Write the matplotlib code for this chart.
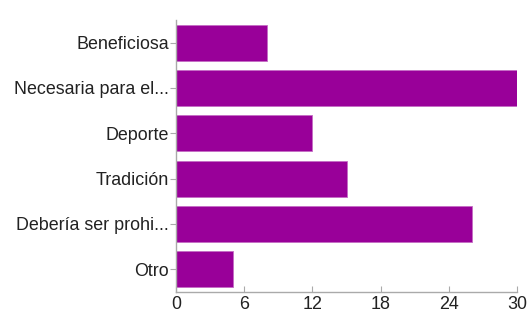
import matplotlib
matplotlib.use("Agg")
import matplotlib.pyplot as plt

categories = ["Beneficiosa", "Necesaria para el...", "Deporte", "Tradición",
              "Debería ser prohi...", "Otro"]
values = [8, 30, 12, 15, 26, 5]
xticks = [0, 6, 12, 18, 24, 30]

plt.rcParams['font.family'] = ['Liberation Sans', 'DejaVu Sans']

fig = plt.figure(figsize=(5.29, 3.21), dpi=100)
ax = fig.add_axes([176/529, 1-292/321, (517-176)/529, (292-20)/321])

y = list(range(len(categories)))
ax.barh(y, values, height=0.8, color="#990099", edgecolor="#c46cc4", linewidth=0.6)
ax.set_ylim(len(categories)-0.5, -0.5)
ax.set_xlim(0, 30)
ax.set_yticks(y)
ax.set_yticklabels(categories)
ax.set_xticks(xticks)
ax.set_xticklabels([str(t) for t in xticks])

for s in ["top", "right"]:
    ax.spines[s].set_visible(False)
for s in ["left", "bottom"]:
    ax.spines[s].set_color("#aaaaaa")
    ax.spines[s].set_linewidth(1)

ax.tick_params(axis="y", direction="out", length=4, color="#aaaaaa", labelsize=12.9,
               labelcolor="#222222", pad=1)
ax.tick_params(axis="x", direction="in", length=4, color="#aaaaaa", labelsize=12.9,
               labelcolor="#222222", pad=3)

fig.savefig("out.png", dpi=100)
